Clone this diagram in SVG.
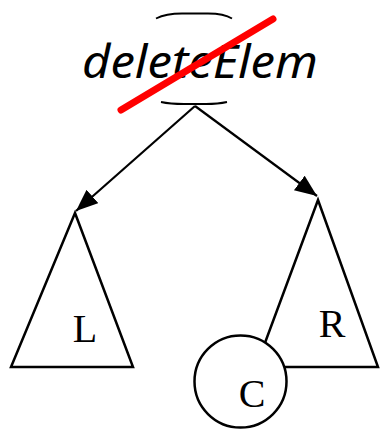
<svg xmlns="http://www.w3.org/2000/svg" width="380" height="429" viewBox="0 0 380 429">
<style>
.ln{stroke:#000;stroke-width:2.2;fill:none}
.arc{stroke:#000;stroke-width:1.8;fill:none}
.tri{stroke:#000;stroke-width:2.5;fill:#fff;stroke-linejoin:miter}
.lbl{font-family:"Liberation Serif",serif;font-size:40px;fill:#000;text-anchor:middle}
</style>
<defs>
<marker id="ah" markerUnits="userSpaceOnUse" markerWidth="24" markerHeight="20" refX="22" refY="9" orient="auto">
<path d="M0,0 L22,9 L0,18 Z" fill="#000"/>
</marker>
</defs>
<rect width="380" height="429" fill="#fff"/>
<g id="root">
<path class="arc" d="M156,18.5 Q166,13.5 182,13.5 L208,13.5 Q224,13.5 232,18.5"/>
<path class="arc" d="M161,102 Q170,104 184,104 L206,104 Q218,104 227,102"/>
<text x="82" y="78" font-family="'Noto Sans','Open Sans',sans-serif" font-style="italic" font-size="45" textLength="236" lengthAdjust="spacingAndGlyphs">deleteElem</text>
</g>
<g id="connectors">
<line class="ln" x1="195" y1="106" x2="76" y2="211" marker-end="url(#ah)"/>
<line class="ln" x1="195" y1="106" x2="317" y2="196" marker-end="url(#ah)"/>
</g>
<g id="L">
<polygon class="tri" points="75,213 11,367 133,367"/>
<text class="lbl" x="85" y="342">L</text>
</g>
<g id="R">
<polygon class="tri" points="318,200 256,367 378,367"/>
<text class="lbl" x="332" y="337">R</text>
</g>
<g id="C">
<circle cx="240.5" cy="381.5" r="46" fill="#fff" stroke="#000" stroke-width="2.5"/>
<text class="lbl" x="252" y="407">C</text>
</g>
<line x1="121" y1="110" x2="273" y2="19" stroke="#ff0000" stroke-width="7" stroke-linecap="round"/>
</svg>
